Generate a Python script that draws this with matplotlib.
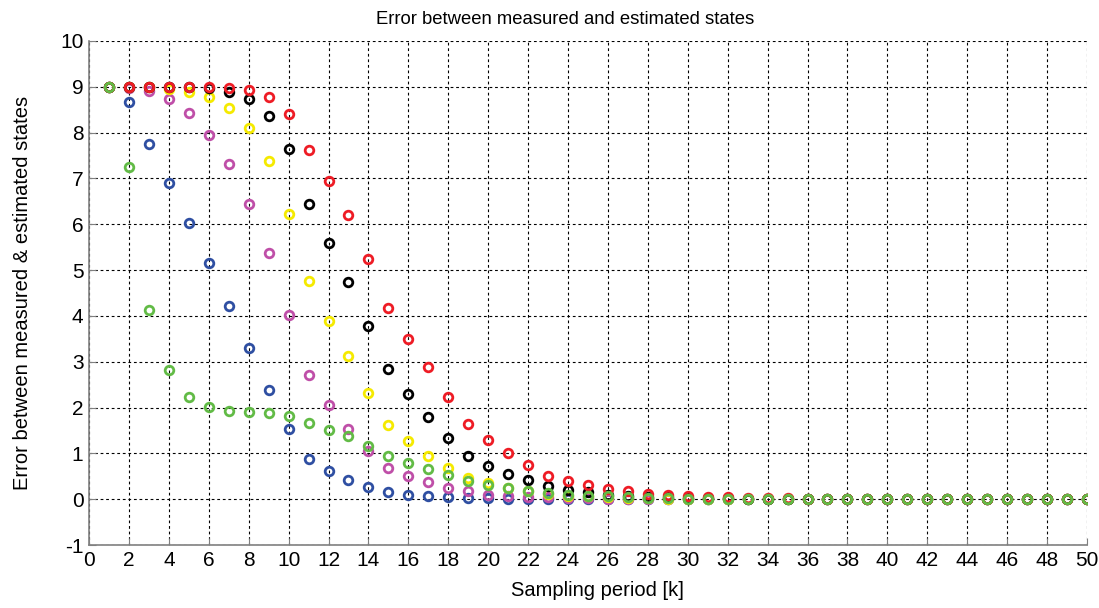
import numpy as np
import matplotlib.pyplot as plt

plt.rcParams['font.family'] = ['Liberation Sans', 'DejaVu Sans']
plt.rcParams['axes.unicode_minus'] = False

# sampling instants k = 1..50
k = np.arange(1, 51)

err_blue = [9.0, 8.67, 7.75, 6.91, 6.02, 5.15, 4.21, 3.30, 2.38, 1.54,
            0.88, 0.61, 0.41, 0.26, 0.16, 0.10, 0.08, 0.05, 0.03, 0.02,
            0.01, 0.01, 0.0, 0.0, 0.0, 0.0, 0.0, 0.0, 0.0, 0.0,
            0.0, 0.0, 0.0, 0.0, 0.0, 0.0, 0.0, 0.0, 0.0, 0.0,
            0.0, 0.0, 0.0, 0.0, 0.0, 0.0, 0.0, 0.0, 0.0, 0.0]
err_magenta = [9.0, 8.97, 8.90, 8.73, 8.43, 7.95, 7.31, 6.45, 5.37, 4.03,
               2.71, 2.06, 1.53, 1.05, 0.68, 0.50, 0.37, 0.25, 0.17, 0.10,
               0.08, 0.05, 0.04, 0.03, 0.02, 0.01, 0.01, 0.0, 0.0, 0.0,
               0.0, 0.0, 0.0, 0.0, 0.0, 0.0, 0.0, 0.0, 0.0, 0.0,
               0.0, 0.0, 0.0, 0.0, 0.0, 0.0, 0.0, 0.0, 0.0, 0.0]
err_yellow = [9.0, 9.0, 8.99, 8.96, 8.88, 8.78, 8.54, 8.11, 7.39, 6.23,
              4.77, 3.89, 3.13, 2.32, 1.63, 1.27, 0.94, 0.68, 0.47, 0.36,
              0.25, 0.18, 0.12, 0.08, 0.06, 0.04, 0.03, 0.02, 0.01, 0.01,
              0.01, 0.0, 0.0, 0.0, 0.0, 0.0, 0.0, 0.0, 0.0, 0.0,
              0.0, 0.0, 0.0, 0.0, 0.0, 0.0, 0.0, 0.0, 0.0, 0.0]
err_black = [9.0, 9.0, 9.0, 9.0, 9.0, 8.97, 8.88, 8.74, 8.37, 7.65,
             6.45, 5.60, 4.75, 3.78, 2.84, 2.29, 1.80, 1.34, 0.94, 0.72,
             0.56, 0.41, 0.28, 0.20, 0.15, 0.10, 0.07, 0.05, 0.04, 0.03,
             0.02, 0.02, 0.01, 0.01, 0.01, 0.0, 0.0, 0.0, 0.0, 0.0,
             0.0, 0.0, 0.0, 0.0, 0.0, 0.0, 0.0, 0.0, 0.0, 0.0]
err_red = [9.0, 9.0, 9.0, 9.0, 9.0, 9.0, 8.98, 8.93, 8.78, 8.41,
           7.63, 6.94, 6.20, 5.24, 4.18, 3.50, 2.88, 2.24, 1.64, 1.30,
           1.01, 0.74, 0.51, 0.39, 0.30, 0.22, 0.17, 0.12, 0.09, 0.07,
           0.05, 0.04, 0.03, 0.02, 0.02, 0.01, 0.01, 0.01, 0.01, 0.01,
           0.01, 0.01, 0.0, 0.0, 0.0, 0.0, 0.0, 0.0, 0.0, 0.01]
err_green = [9.0, 7.26, 4.13, 2.83, 2.24, 2.02, 1.92, 1.90, 1.88, 1.81,
             1.66, 1.52, 1.38, 1.17, 0.94, 0.79, 0.66, 0.52, 0.39, 0.31,
             0.25, 0.18, 0.13, 0.10, 0.08, 0.06, 0.05, 0.03, 0.02, 0.01,
             0.01, 0.0, 0.0, 0.0, 0.0, 0.0, 0.0, 0.0, 0.0, 0.0,
             0.0, 0.0, 0.0, 0.0, 0.0, 0.0, 0.0, 0.0, 0.0, 0.0]

series = [(err_blue, '#2f4fa2'), (err_magenta, '#bf4fa8'),
          (err_yellow, '#f5ea00'), (err_black, '#000000'),
          (err_red, '#ee1c25'), (err_green, '#62bb46')]

fig = plt.figure(figsize=(10.99, 6.08), dpi=100)
ax = fig.add_axes([0.081, 0.1036, 0.908, 0.829])

for vals, col in series:
    ax.plot(k, vals, 'o', markersize=6.2, markerfacecolor='none',
            markeredgecolor=col, markeredgewidth=2.0, zorder=3)

ax.set_xlim(0, 50)
ax.set_ylim(-1, 10)
ax.set_xticks(np.arange(0, 51, 2))
ax.set_yticks(np.arange(-1, 11, 1))
ax.grid(True, color='black', linestyle=(0, (2.5, 2.5)), linewidth=0.8)

for s in ['top', 'right']:
    ax.spines[s].set_visible(False)
for s in ['left', 'bottom']:
    ax.spines[s].set_color('#808080')
    ax.spines[s].set_linewidth(1.2)
ax.tick_params(direction='in', length=5, color='#808080', labelsize=15,
               pad=4)

ax.set_title('Error between measured and estimated states', fontsize=13.3,
             pad=12, x=0.477)
ax.set_xlabel('Sampling period [k]', fontsize=14.5)
ax.xaxis.set_label_coords(0.509, -0.072)
ax.set_ylabel('Error between measured & estimated states', fontsize=14.5,
              labelpad=20)

fig.savefig('out.png', dpi=100)
